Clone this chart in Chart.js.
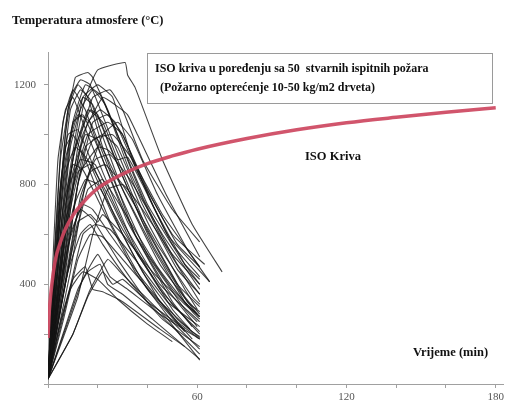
<!DOCTYPE html>
<html>
<head>
<meta charset="utf-8">
<script src="https://cdn.jsdelivr.net/npm/chart.js@4.4.1/dist/chart.umd.min.js"></script>
<style>
  html, body { margin: 0; padding: 0; background: #fff; }
  #wrap { width: 507px; height: 406px; position: relative; }
</style>
</head>
<body>
<div id="wrap"><canvas id="fireChart"></canvas></div>
<script>
// ISO kriva (ocitano sa slike)
const isoTime = [0, 0.5, 1, 2, 3, 5, 7, 10, 15, 20, 30, 40, 50, 60, 80, 100, 120, 140, 160, 180];
const isoTemp = [185, 290, 350, 435, 500, 570, 622, 676, 738, 785, 842, 884, 915, 942, 985, 1020, 1048, 1070, 1090, 1108];

// ose
const xTicks = [0, 20, 40, 60, 80, 100, 120, 140, 160, 180];
const yTicks = [0, 200, 400, 600, 800, 1000, 1200];

// 50 stvarnih ispitnih pozara: [vrijeme, temperatura]
const fireCurves = [
    [[0,20],[2,400],[5,900],[9,1150],[13,1220],[17,1200],[25,1000],[40,650],[55,380],[60,300]],
    [[0,20],[3,500],[7,1000],[11,1230],[16,1250],[18,1230],[24,1100],[38,750],[52,480],[61,360]],
    [[0,20],[5,450],[10,900],[15,1150],[20,1260],[31,1290],[32,1240],[35,1190],[46,900],[58,640],[70,450]],
    [[0,20],[4,350],[8,800],[14,1150],[20,1200],[26,1150],[34,900],[48,600],[65,410]],
    [[0,20],[3,600],[6,1050],[10,1180],[15,1100],[22,900],[35,600],[50,380],[61,270]],
    [[0,20],[6,500],[12,950],[18,1150],[25,1180],[30,1100],[38,900],[50,700],[61,570]],
    [[0,20],[5,600],[10,1050],[15,1200],[21,1160],[28,1000],[40,720],[55,480],[61,420]],
    [[0,20],[2,300],[5,750],[8,1100],[12,1200],[16,1150],[22,950],[35,600],[50,330],[58,230]],
    [[0,20],[7,600],[14,1000],[22,1150],[27,1120],[32,1080],[36,1000],[48,750],[61,510]],
    [[0,20],[4,500],[9,1000],[14,1150],[18,1120],[25,950],[38,650],[52,400],[61,310]],
    [[0,20],[3,400],[6,800],[10,1050],[14,1080],[20,950],[32,650],[48,380],[60,230]],
    [[0,20],[5,450],[10,850],[15,1000],[20,980],[28,820],[42,550],[55,330],[61,270]],
    [[0,20],[4,300],[9,700],[15,950],[22,1000],[28,950],[38,720],[52,460],[61,360]],
    [[0,20],[2,350],[5,800],[8,1000],[12,1020],[18,880],[30,600],[45,330],[58,180]],
    [[0,20],[6,400],[12,800],[18,1050],[24,1080],[30,1000],[40,780],[52,560],[61,470]],
    [[0,20],[3,450],[7,850],[11,950],[16,900],[25,700],[38,450],[52,260],[61,185]],
    [[0,20],[5,500],[10,900],[16,1100],[22,1050],[28,900],[40,620],[55,350],[61,280]],
    [[0,20],[4,400],[8,780],[13,900],[19,880],[30,650],[45,400],[61,250]],
    [[0,20],[7,500],[13,850],[20,950],[24,940],[28,900],[32,910],[38,800],[50,560],[61,430]],
    [[0,20],[3,350],[6,700],[10,880],[14,860],[22,700],[35,450],[50,250],[61,140]],
    [[0,20],[4,300],[9,600],[14,720],[18,700],[25,600],[38,420],[52,250],[61,180]],
    [[0,20],[6,350],[12,650],[17,680],[20,650],[22,680],[30,600],[42,450],[55,320],[61,270]],
    [[0,20],[3,250],[8,550],[13,700],[18,660],[28,500],[40,330],[55,180],[61,120]],
    [[0,20],[5,400],[10,700],[15,820],[20,800],[30,620],[45,380],[61,200]],
    [[0,20],[8,350],[14,600],[19,640],[25,620],[35,500],[48,330],[61,230]],
    [[0,20],[6,200],[12,380],[16,450],[21,480],[24,400],[30,360],[42,260],[55,150],[61,100]],
    [[0,20],[8,250],[14,420],[20,520],[25,430],[32,380],[45,280],[61,180]],
    [[0,20],[5,250],[10,420],[15,470],[18,380],[22,370],[30,330],[45,220],[55,150]],
    [[0,20],[10,200],[16,350],[22,450],[26,400],[30,420],[40,330],[55,220]],
    [[0,20],[4,200],[9,380],[14,450],[20,420],[28,340],[40,240],[50,170]],
    [[0,20],[2,500],[4,900],[7,1100],[10,1150],[14,1050],[22,850],[35,550],[50,300],[57,220]],
    [[0,20],[5,550],[9,950],[13,1100],[18,1180],[23,1120],[33,850],[47,560],[61,330]],
    [[0,20],[6,450],[11,850],[16,1050],[21,1100],[27,1050],[36,850],[50,600],[63,480]],
    [[0,20],[3,450],[7,900],[12,1080],[17,1050],[25,850],[40,520],[55,300],[60,250]],
    [[0,20],[4,350],[9,750],[16,1000],[24,1050],[30,1000],[42,720],[55,480],[61,400]],
    [[0,20],[2,250],[6,650],[11,950],[17,1100],[20,1080],[28,880],[42,560],[56,330],[61,290]],
    [[0,20],[7,450],[12,800],[18,980],[26,1000],[34,900],[46,680],[61,470]],
    [[0,20],[3,300],[7,650],[12,850],[17,880],[24,760],[36,520],[50,320],[61,210]],
    [[0,20],[5,300],[11,650],[17,850],[23,880],[30,800],[44,560],[58,350],[61,320]],
    [[0,20],[1.5,300],[4,700],[7,950],[10,1000],[15,900],[25,650],[40,380],[55,210]],
    [[0,20],[9,450],[15,800],[22,1000],[28,1050],[34,980],[44,760],[56,540],[65,410]],
    [[0,20],[4,250],[10,550],[16,780],[22,820],[30,700],[44,470],[58,290],[61,260]],
    [[0,20],[6,250],[12,500],[17,600],[22,590],[30,500],[44,340],[58,210],[61,190]],
    [[0,20],[3,200],[8,450],[13,600],[17,640],[22,560],[32,420],[46,260],[61,150]],
    [[0,20],[12,350],[18,600],[24,780],[30,800],[38,700],[50,520],[61,400]],
    [[0,20],[7,400],[13,750],[19,900],[25,920],[33,820],[46,600],[61,380]],
    [[0,20],[10,200],[17,380],[24,500],[29,450],[36,380],[48,260],[61,96]],
    [[0,20],[2,300],[5,750],[9,1100],[13,1180],[17,1140],[21,1020],[30,780],[45,480],[60,280]]
];

// Tekstovi
const yTitle = 'Temperatura atmosfere (°C)';
const xTitle = 'Vrijeme (min)';
const boxLines = ['ISO kriva u poređenju sa 50  stvarnih ispitnih požara', ' (Požarno opterećenje 10-50 kg/m2 drveta)'];
const isoLabel = 'ISO Kriva';

const SERIF = '"Liberation Serif", "DejaVu Serif", serif';

// crta natpise i okvir legende
const annotations = {
    id: 'annotations',
    afterDraw(chart) {
        const ctx = chart.ctx;
        ctx.save();
        ctx.fillStyle = '#111';
        ctx.textBaseline = 'alphabetic';
        ctx.font = 'bold 12.5px ' + SERIF;
        ctx.fillText(yTitle, 12, 24);
        ctx.fillText(xTitle, 413, 356);
        ctx.fillText(isoLabel, 305, 160);

        ctx.fillStyle = '#fff';
        ctx.fillRect(147.5, 53.5, 345, 50);
        ctx.strokeStyle = '#9a9a9a';
        ctx.lineWidth = 1;
        ctx.strokeRect(147.5, 53.5, 345, 50);
        ctx.fillStyle = '#111';
        ctx.font = 'bold 12px ' + SERIF;
        ctx.fillText(boxLines[0], 155, 72);
        ctx.fillText(boxLines[1], 157, 91);
        ctx.restore();
    }
};

const datasets = [{
    label: 'ISO',
    data: isoTime.map((t, i) => ({ x: t, y: isoTemp[i] })),
    borderColor: 'rgba(205, 70, 95, 0.92)',
    borderWidth: 3.5,
    pointRadius: 0,
    cubicInterpolationMode: 'monotone',
    order: 0
}];

fireCurves.forEach((curve, i) => {
    datasets.push({
        label: 'Pozar ' + (i + 1),
        data: curve.map(p => ({ x: p[0], y: p[1] })),
        borderColor: 'rgba(20, 20, 20, 0.8)',
        borderWidth: 1.1,
        pointRadius: 0,
        tension: 0.12,
        order: 1
    });
});

new Chart(document.getElementById('fireChart'), {
    type: 'scatter',
    data: { datasets: datasets },
    options: {
        responsive: true,
        maintainAspectRatio: false,
        animation: false,
        showLine: true,
        layout: { padding: { top: 52, right: 2, left: 0, bottom: 0 } },
        plugins: {
            legend: { display: false },
            tooltip: { enabled: false }
        },
        scales: {
            x: {
                type: 'linear',
                min: 0,
                max: 183,
                afterFit: (s) => { s.height = 22; },
                afterBuildTicks: (s) => { s.ticks = xTicks.map(v => ({ value: v })); },
                border: { color: '#a0a0a0', width: 1 },
                grid: { drawOnChartArea: false, tickLength: 4, color: '#a0a0a0' },
                ticks: {
                    autoSkip: false,
                    maxRotation: 0,
                    padding: 3,
                    color: '#555',
                    font: { family: SERIF, size: 11 },
                    callback: (v) => (v > 0 && v % 60 === 0) ? String(v) : ''
                }
            },
            y: {
                min: 0,
                max: 1332,
                afterFit: (s) => { s.width = 48; },
                afterBuildTicks: (s) => { s.ticks = yTicks.map(v => ({ value: v })); },
                border: { color: '#a0a0a0', width: 1 },
                grid: { drawOnChartArea: false, tickLength: 4, color: '#a0a0a0' },
                ticks: {
                    autoSkip: false,
                    padding: 8,
                    color: '#555',
                    font: { family: SERIF, size: 11 },
                    callback: (v) => (v > 0 && v % 400 === 0) ? String(v) : ''
                }
            }
        }
    },
    plugins: [annotations]
});
</script>
</body>
</html>
